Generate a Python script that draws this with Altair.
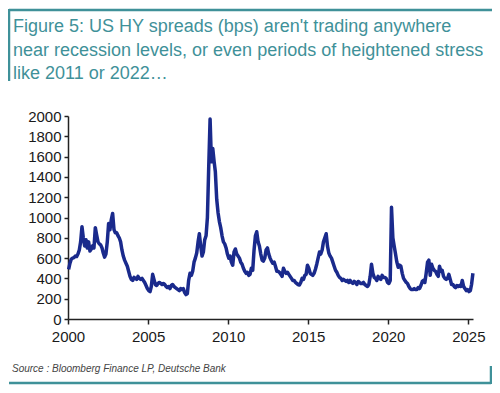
import altair as alt
import pandas as pd

# Monthly US HY spreads (bps)
y2000 = [490, 550, 590, 600, 605, 620, 615, 640, 680, 760, 910, 800]
y2001 = [720, 780, 700, 760, 670, 690, 720, 700, 900, 830, 760, 740]
y2002 = [730, 700, 650, 610, 640, 760, 940, 880, 980, 1040, 880, 850]
y2003 = [850, 820, 800, 760, 680, 620, 580, 550, 520, 470, 420, 390]
y2004 = [380, 410, 400, 390, 420, 400, 390, 400, 380, 360, 330, 300]
y2005 = [280, 270, 320, 440, 390, 340, 330, 350, 360, 350, 340, 350]
y2006 = [340, 320, 310, 320, 300, 330, 340, 320, 310, 300, 290, 280]
y2007 = [300, 290, 300, 260, 240, 250, 380, 450, 430, 470, 560, 600]
y2008 = [650, 760, 840, 720, 620, 660, 780, 820, 1000, 1500, 1970, 1550]
y2009 = [1680, 1550, 1450, 1180, 1050, 960, 900, 820, 760, 740, 700, 640]
y2010 = [600, 620, 560, 530, 660, 690, 640, 620, 600, 560, 540, 500]
y2011 = [470, 450, 460, 430, 440, 500, 480, 680, 820, 860, 760, 720]
y2012 = [640, 580, 570, 600, 680, 700, 640, 600, 570, 550, 560, 520]
y2013 = [470, 470, 460, 440, 420, 500, 470, 450, 460, 440, 420, 400]
y2014 = [380, 380, 360, 350, 340, 335, 360, 400, 390, 430, 440, 530]
y2015 = [500, 450, 440, 430, 450, 490, 540, 600, 660, 640, 680, 760]
y2016 = [800, 840, 720, 650, 620, 600, 560, 520, 480, 460, 430, 410]
y2017 = [400, 380, 390, 380, 370, 380, 360, 380, 360, 350, 370, 360]
y2018 = [340, 370, 360, 350, 350, 360, 340, 330, 320, 340, 420, 540]
y2019 = [450, 410, 400, 380, 420, 400, 390, 430, 410, 410, 400, 360]
y2020 = [350, 380, 1100, 800, 720, 640, 560, 510, 530, 520, 450, 400]
y2021 = [380, 360, 350, 320, 300, 290, 290, 300, 290, 290, 310, 300]
y2022 = [330, 370, 380, 360, 450, 560, 580, 430, 540, 500, 480, 470]
y2023 = [440, 420, 520, 470, 480, 420, 400, 390, 400, 440, 390, 340]
y2024 = [340, 320, 310, 330, 320, 330, 320, 380, 320, 300, 280, 290]
y2025 = [270, 280, 340, 450]

x_tick_years = [2000, 2005, 2010, 2015, 2020, 2025]
y_ticks = [0, 200, 400, 600, 800, 1000, 1200, 1400, 1600, 1800, 2000]

title_lines = [
    "Figure 5: US HY spreads (bps) aren't trading anywhere",
    "near recession levels, or even periods of heightened stress",
    "like 2011 or 2022…",
]
source_text = "Source : Bloomberg Finance LP, Deutsche Bank"

values = (y2000 + y2001 + y2002 + y2003 + y2004 + y2005 + y2006 + y2007 + y2008
          + y2009 + y2010 + y2011 + y2012 + y2013 + y2014 + y2015 + y2016 + y2017
          + y2018 + y2019 + y2020 + y2021 + y2022 + y2023 + y2024 + y2025)
dates = pd.date_range("2000-01-01", periods=len(values), freq="MS") + pd.Timedelta(days=14)
df = pd.DataFrame({"date": dates, "spread": values})

TEAL = "#3f9199"
AXIS = "#222222"
FONT = "Liberation Sans"

line = alt.Chart(df).mark_line(color="#1a2a8c", strokeWidth=3.5, strokeJoin="round").encode(
    x=alt.X(
        "date:T",
        scale=alt.Scale(domain=[alt.DateTime(year=2000, month=1, date=1),
                                alt.DateTime(year=2025, month=4, date=17)]),
        axis=alt.Axis(
            values=[alt.DateTime(year=y, month=1, date=1) for y in x_tick_years],
            format="%Y", title=None, grid=False, tickSize=5, labelPadding=5,
            labelFlush=False,
        ),
    ),
    y=alt.Y(
        "spread:Q",
        scale=alt.Scale(domain=[0, 2000], nice=False),
        axis=alt.Axis(values=y_ticks, format="d", title=None, grid=False,
                      tickSize=4, labelPadding=3),
    ),
)

one = pd.DataFrame({"a": [0]})

def hrule(x1, x2, y):
    return alt.Chart(one).mark_rule(color=TEAL, strokeWidth=2.5, clip=False).encode(
        x=alt.value(x1), x2=alt.value(x2), y=alt.value(y))

def vrule(x, y1, y2):
    return alt.Chart(one).mark_rule(color=TEAL, strokeWidth=2.5, clip=False).encode(
        x=alt.value(x), y=alt.value(y1), y2=alt.value(y2))

frame = [
    hrule(-59, 425, -106),
    vrule(-59, -107, -35),
    hrule(-59, 423, 267),
    vrule(423, 250, 268),
]

titles = [
    alt.Chart(one).mark_text(
        text=t, align="left", baseline="middle", font=FONT, fontSize=18,
        color=TEAL, clip=False,
    ).encode(x=alt.value(-55), y=alt.value(yy))
    for t, yy in zip(title_lines, [-89, -65.5, -42])
]

source = alt.Chart(one).mark_text(
    text=source_text, align="left", baseline="middle", font=FONT, fontSize=10,
    fontStyle="italic", color="#444444", clip=False,
).encode(x=alt.value(-56), y=alt.value(253))

chart = alt.layer(line, *frame, *titles, source).properties(
    width=405, height=203,
    autosize=alt.AutoSizeParams(type="none"),
    padding={"left": 60, "top": 108, "right": 19, "bottom": 66},
    background="white",
).configure_view(stroke=None).configure_axis(
    domainColor=AXIS, domainWidth=1.5, tickColor=AXIS, tickWidth=1.5,
    labelFont=FONT, labelFontSize=15, labelColor="#1a1a1a",
)

chart.save("out.html", embed_options={"renderer": "svg", "actions": False})
